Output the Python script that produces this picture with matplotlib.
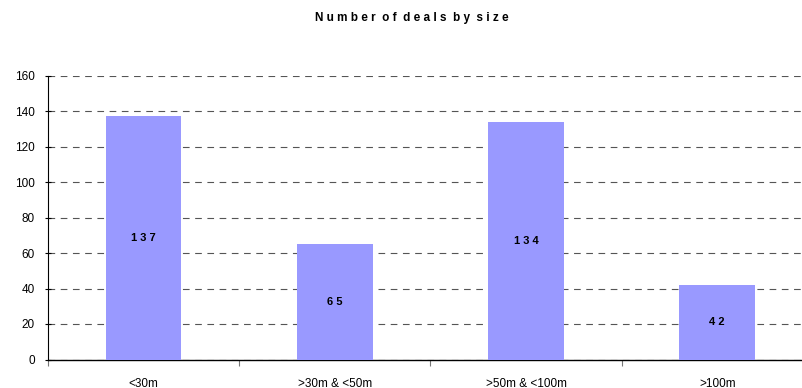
import matplotlib
matplotlib.use("Agg")
import matplotlib.pyplot as plt
import numpy as np

plt.rcParams['font.family'] = ['Liberation Sans', 'DejaVu Sans']

categories = ["<30m", ">30m & <50m", ">50m & <100m", ">100m"]
deals = [137, 65, 134, 42]
yticks = [0, 20, 40, 60, 80, 100, 120, 140, 160]
title = "Number of deals by size"

W, H = 802, 388
fig = plt.figure(figsize=(W / 100, H / 100), dpi=100)

left_px, right_px = 48, 814.8
top_px, bottom_px = 75.5, 359.5
ax = fig.add_axes([left_px / W, (H - bottom_px) / H,
                   (right_px - left_px) / W, (bottom_px - top_px) / H])

x = np.arange(len(categories))
ax.bar(x, deals, width=0.396, color="#9999FF", zorder=3)

for xi, v in zip(x, deals):
    ax.text(xi, v / 2, " ".join(str(v)), ha="center", va="center",
            fontsize=8, fontweight="bold", color="black", zorder=4)

ax.set_xlim(-0.49, len(categories) - 0.49)
ax.set_ylim(0, 160)
ax.set_yticks(yticks)
ax.set_yticklabels([str(t) for t in yticks], fontsize=8.5)

# category labels centred under bars, tick marks between categories
ax.set_xticks(np.arange(len(categories) + 1) - 0.5)
ax.set_xticklabels([])
ax.set_xticks(x, minor=True)
ax.set_xticklabels(categories, minor=True, fontsize=8.5)
ax.tick_params(axis="x", which="minor", length=0, pad=13)
ax.tick_params(axis="x", which="major", length=4, direction="out", color="#777777")
ax.tick_params(axis="y", length=5, direction="inout", pad=7)

ax.yaxis.grid(True, linestyle=(0, (6, 5)), color="#555555", linewidth=0.8, zorder=1)
for s in ["top", "right"]:
    ax.spines[s].set_visible(False)
ax.spines["left"].set_linewidth(0.8)
ax.spines["bottom"].set_linewidth(1.0)

# letter-spaced bold title
spaced = "  ".join(" ".join(w) for w in title.split())
fig.text(412 / W, 1 - 18.5 / H, spaced,
         ha="center", va="center", fontsize=8.5, fontweight="bold")

fig.savefig("out.png", dpi=100)
